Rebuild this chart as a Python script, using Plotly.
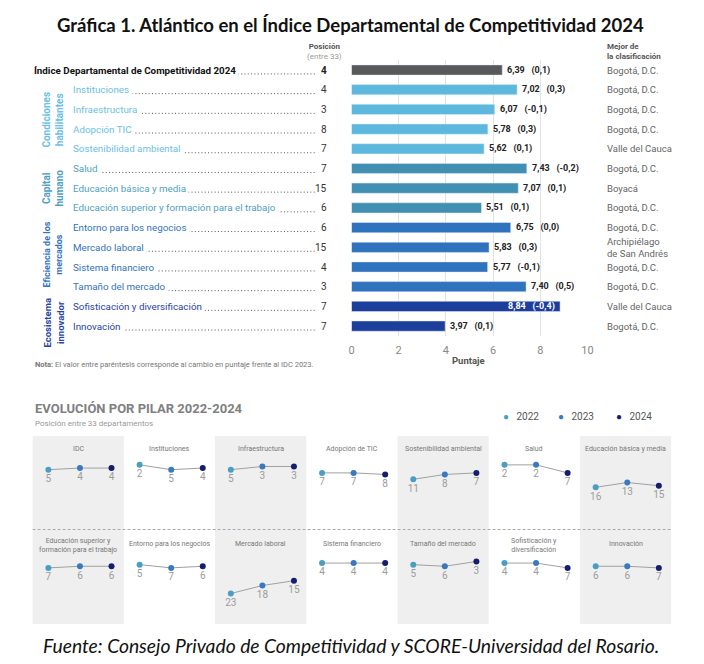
import plotly.graph_objects as go

# ---------------- data ----------------
pillars = [
    "Índice Departamental de Competitividad 2024",
    "Instituciones", "Infraestructura", "Adopción TIC", "Sostenibilidad ambiental",
    "Salud", "Educación básica y media", "Educación superior y formación para el trabajo",
    "Entorno para los negocios", "Mercado laboral", "Sistema financiero", "Tamaño del mercado",
    "Sofisticación y diversificación", "Innovación",
]
scores = [6.39, 7.02, 6.07, 5.78, 5.62, 7.43, 7.07, 5.51, 6.75, 5.83, 5.77, 7.40, 8.84, 3.97]
changes = [0.1, 0.3, -0.1, 0.3, 0.1, -0.2, 0.1, 0.1, 0.0, 0.3, -0.1, 0.5, -0.4, 0.1]
positions = [4, 4, 3, 8, 7, 7, 15, 6, 6, 15, 4, 3, 7, 7]
best_dept = ["Bogotá, D.C.", "Bogotá, D.C.", "Bogotá, D.C.", "Bogotá, D.C.", "Valle del Cauca",
             "Bogotá, D.C.", "Boyacá", "Bogotá, D.C.", "Bogotá, D.C.", "Archipiélago<br>de San Andrés",
             "Bogotá, D.C.", "Bogotá, D.C.", "Valle del Cauca", "Bogotá, D.C."]
factor_names = ["Condiciones<br>habilitantes", "Capital<br>humano",
                "Eficiencia de los<br>mercados", "Ecosistema<br>innovador"]
pillar_factor = [None, 0, 0, 0, 0, 1, 1, 1, 2, 2, 2, 2, 3, 3]
x_ticks = [0, 2, 4, 6, 8, 10]

panel_titles = ["IDC", "Instituciones", "Infraestructura", "Adopción de TIC",
                "Sostenibilidad ambiental", "Salud", "Educación básica y media",
                "Educación superior y<br>formación para el trabajo", "Entorno para los negocios",
                "Mercado laboral", "Sistema financiero", "Tamaño del mercado",
                "Sofisticación y<br>diversificación", "Innovación"]
years = ["2022", "2023", "2024"]
rank_2022 = [5, 2, 5, 7, 11, 2, 16, 7, 5, 23, 4, 5, 4, 6]
rank_2023 = [4, 5, 3, 7, 8, 2, 13, 6, 7, 18, 4, 6, 4, 6]
rank_2024 = [4, 4, 3, 8, 7, 7, 15, 6, 6, 15, 4, 3, 7, 7]

# ---------------- styles ----------------
W, H = 704, 664
def px(x): return x / W
def py(y): return 1 - y / H

F = "Roboto"
TF = "Lato"
bar_factor_colors = ["#5DB8DE", "#4190B3", "#2F72BE", "#1E3E9C"]
label_factor_colors = ["#6CC0E3", "#4F9FC3", "#3373BD", "#27459F"]
factor_label_sizes = [10, 10, 9, 9.5]
factor_label_shift = [0, 0, -0.15, 0.3]
year_colors = ["#4A9EC4", "#3A78C2", "#141E6E"]

bar_colors = ["#58595B" if f is None else bar_factor_colors[f] for f in pillar_factor]
label_colors = ["#111111" if f is None else label_factor_colors[f] for f in pillar_factor]

def fmt2(v): return f"{v:.2f}".replace(".", ",")
def fmt1(v): return f"{v:.1f}".replace(".", ",")

def ann(text, x, y, xref="paper", yref="paper", xanchor="center", yanchor="middle", **kw):
    d = dict(text=text, x=x, y=y, xref=xref, yref=yref, xanchor=xanchor, yanchor=yanchor,
             showarrow=False)
    d.update(kw)
    return d

n = len(pillars)
row_top, row_h = 60.15, 19.7

fig = go.Figure()
fig.add_trace(go.Bar(
    x=scores, y=list(range(n)), orientation="h", marker_color=bar_colors,
    width=0.52, xaxis="x", yaxis="y", showlegend=False, hoverinfo="skip"))

annotations = []
shapes = []

# title
annotations.append(ann("<b>Gráfica 1. Atlántico en el Índice Departamental de Competitividad 2024</b>",
                       0.5, py(25), font=dict(family=TF, size=18.5, color="#111")))
# headers
annotations.append(ann("<b>Posición</b><br><span style='color:#999'>(entre 33)</span>",
                       px(326), py(52), font=dict(family=F, size=8, color="#555"), align="center"))
annotations.append(ann("<b>Mejor de<br>la clasificación</b>", px(610), py(52), xanchor="left",
                       align="left", font=dict(family=F, size=8, color="#555")))

for i in range(n):
    x_start = 30 if i == 0 else 70
    lab = f"<b>{pillars[i]}</b>" if i == 0 else pillars[i]
    annotations.append(ann(lab + "&nbsp;", px(x_start), i, yref="y", xanchor="left",
                           bgcolor="white", borderpad=0,
                           font=dict(family=F, size=9.8, color=label_colors[i])))
    shapes.append(dict(type="line", xref="paper", yref="y", x0=px(x_start + 4), x1=px(316),
                       y0=i + 0.2, y1=i + 0.2, layer="below",
                       line=dict(color="#555", width=1, dash="1px,2.3px")))
    pos = f"<b>{positions[i]}</b>" if i == 0 else str(positions[i])
    annotations.append(ann(pos, px(330), i, yref="y", xanchor="right",
                           font=dict(family=F, size=10, color="#222" if i == 0 else "#333")))
    val = f"<b>{fmt2(scores[i])}&nbsp;&nbsp;&nbsp;({fmt1(changes[i])})</b>"
    inside = scores[i] > 8.5
    annotations.append(ann(val, scores[i], i, xref="x", yref="y",
                           xanchor="right" if inside else "left", xshift=-3 if inside else 3,
                           font=dict(family=F, size=9, color="white" if inside else "#222")))
    annotations.append(ann(best_dept[i], px(610), i, yref="y", xanchor="left", align="left",
                           font=dict(family=F, size=9.5, color="#666")))

# factor group labels
for f, name in enumerate(factor_names):
    rows = [i for i in range(n) if pillar_factor[i] == f]
    yc = sum(rows) / len(rows) + factor_label_shift[f]
    annotations.append(ann(f"<b>{name}</b>", px(51), yc, yref="y", textangle=-90, align="center",
                           font=dict(family=F, size=factor_label_sizes[f],
                                     color=label_factor_colors[f])))

annotations.append(ann("<b>Puntaje</b>", px(472), py(360),
                       font=dict(family=F, size=9.5, color="#555")))
annotations.append(ann("<b>Nota:</b> El valor entre paréntesis corresponde al cambio en puntaje frente al IDC 2023.",
                       px(30), py(365), xanchor="left", font=dict(family=F, size=7.5, color="#777")))

# bottom section headers
annotations.append(ann("<b>EVOLUCIÓN POR PILAR 2022-2024</b>", px(30), py(408), xanchor="left",
                       font=dict(family=F, size=13, color="#808080")))
annotations.append(ann("Posición entre 33 departamentos", px(30), py(424), xanchor="left",
                       font=dict(family=F, size=8, color="#999")))
leg_x = [504, 560, 619]
for yr, col, lx in zip(years, year_colors, leg_x):
    annotations.append(ann(f"<span style='color:{col}'>●</span>&nbsp;&nbsp; {yr}", px(lx), py(416),
                           xanchor="left", font=dict(family=F, size=10, color="#555")))

layout_axes = {}
layout_axes["xaxis"] = dict(domain=[px(353), px(592)], range=[0, 10], tickvals=x_ticks,
                            ticktext=[str(t) for t in x_ticks], showgrid=True, gridcolor="#E2E2E2",
                            gridwidth=1, zeroline=False, showline=False, ticks="",
                            ticklabelstandoff=6, tickfont=dict(family=F, size=11, color="#888"),
                            fixedrange=True)
layout_axes["yaxis"] = dict(domain=[py(row_top + row_h * n), py(row_top)],
                            range=[n - 0.5, -0.5], visible=False, fixedrange=True)

panel_w = 92.4
row_domains = [(436, 529), (531, 624)]
for p in range(len(panel_titles)):
    k = p + 2
    r, c = divmod(p, 7)
    x0 = 30 + panel_w * c
    y_top, y_bot = row_domains[r]
    layout_axes[f"xaxis{k}"] = dict(domain=[px(x0), px(x0 + panel_w)], range=[-0.5, 2.39],
                                    type="category", visible=False, fixedrange=True)
    layout_axes[f"yaxis{k}"] = dict(domain=[py(y_bot), py(y_top)], range=[42, -16],
                                    visible=False, fixedrange=True)
    ranks = [rank_2022[p], rank_2023[p], rank_2024[p]]
    fig.add_trace(go.Scatter(
        x=years, y=ranks, mode="lines+markers+text", text=[str(v) for v in ranks],
        textposition="bottom center", textfont=dict(family=F, size=10, color="#9B9B9B"),
        marker=dict(color=year_colors, size=6), line=dict(color="#A0A0A0", width=1),
        xaxis=f"x{k}", yaxis=f"y{k}", showlegend=False, cliponaxis=False, hoverinfo="skip"))
    if c % 2 == 0:
        shapes.append(dict(type="rect", xref=f"x{k} domain", yref=f"y{k} domain",
                           x0=0, x1=1, y0=0, y1=1 if r == 0 else 1.015, layer="below",
                           fillcolor="#EFEFEF", line=dict(width=0)))
    two_line = "<br>" in panel_titles[p]
    ty = 449 if r == 0 else (545 if two_line else 543.5)
    annotations.append(ann(panel_titles[p], px(x0 + panel_w / 2), py(ty), align="center",
                           font=dict(family=F, size=7, color="#777")))

shapes.append(dict(type="line", xref="paper", yref="paper", x0=px(30), x1=px(677),
                   y0=py(529.5), y1=py(529.5), line=dict(color="#AAAAAA", width=1, dash="3px,2px")))

annotations.append(ann("<i>Fuente: Consejo Privado de Competitividad y SCORE-Universidad del Rosario.</i>",
                       0.5, py(645), font=dict(family=TF, size=19.3, color="#111")))

fig.update_layout(width=W, height=H, margin=dict(l=0, r=0, t=0, b=0),
                  paper_bgcolor="white", plot_bgcolor="rgba(0,0,0,0)",
                  annotations=annotations, shapes=shapes, **layout_axes)

fig.write_html("out.html", config={"displayModeBar": False},
               post_script="document.body.style.margin='0';")
